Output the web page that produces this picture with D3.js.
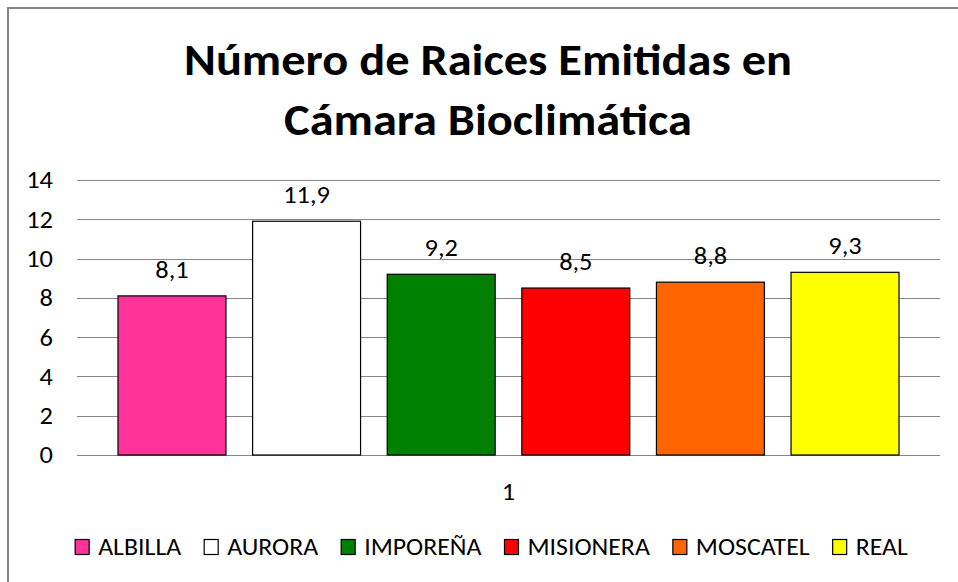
<!DOCTYPE html>
<html lang="es">
<head>
<meta charset="UTF-8">
<title>Número de Raices Emitidas en Cámara Bioclimática</title>
<script src="https://d3js.org/d3.v7.min.js"></script>
<style>
  body { margin: 0; background: #fff; }
  svg text { font-family: Carlito, Calibri, "Open Sans", sans-serif; fill: #000; }
</style>
</head>
<body>
<script>
// datos del grafico
var categories = ['ALBILLA', 'AURORA', 'IMPOREÑA', 'MISIONERA', 'MOSCATEL', 'REAL'];
var values = [8.1, 11.9, 9.2, 8.5, 8.8, 9.3];
var colors = ['#FF3399', '#FFFFFF', '#008000', '#FF0000', '#FF6600', '#FFFF00'];
var yTicks = [0, 2, 4, 6, 8, 10, 12, 14];
var xLabel = '1';
var titleLines = ['Número de Raices Emitidas en', 'Cámara Bioclimática'];

var W = 958, H = 582;
var plot = {left: 77, right: 940, top: 180, bottom: 455};
// la imagen original esta algo estirada en horizontal
var sx = 1.1;

function place(x, y) {
    return 'translate(' + x + ',' + y + ') scale(' + sx + ',1)';
}

var svg = d3.select('body').append('svg')
    .attr('width', W)
    .attr('height', H);

// marco del grafico
svg.append('rect')
    .attr('x', 8).attr('y', 8)
    .attr('width', W + 20).attr('height', H + 20)
    .attr('fill', '#fff')
    .attr('stroke', '#868686')
    .attr('stroke-width', 2);

// titulo
svg.append('g').selectAll('text')
    .data(titleLines)
    .enter()
    .append('text')
    .attr('transform', function(d, i){ return place(488, 75 + i * 60); })
    .attr('text-anchor', 'middle')
    .style('font-size', '44px')
    .style('font-weight', 'bold')
    .text(function(d){ return d; });

var y = d3.scaleLinear()
    .domain([0, 14])
    .range([plot.bottom, plot.top]);

var x = d3.scaleBand()
    .domain(categories)
    .range([plot.left + 41, plot.right - 41])
    .paddingInner(0.198)
    .paddingOuter(0);

// lineas de division
svg.append('g').selectAll('line')
    .data(yTicks)
    .enter()
    .append('line')
    .attr('x1', plot.left)
    .attr('x2', plot.right)
    .attr('y1', function(d){ return Math.round(y(d)) + 0.5; })
    .attr('y2', function(d){ return Math.round(y(d)) + 0.5; })
    .attr('stroke', '#868686')
    .attr('stroke-width', 1);

// eje y
var yAxis = svg.append('g')
    .attr('transform', 'translate(' + (plot.left - 24) + ',0)')
    .call(d3.axisLeft(y).tickValues(yTicks).tickSize(0).tickPadding(0));
yAxis.select('.domain').remove();
yAxis.selectAll('.tick text')
    .attr('x', null)
    .attr('transform', 'scale(' + sx + ',1)')
    .style('font-size', '24px')
    .attr('dy', '0.33em');

// barras
svg.append('g').selectAll('rect')
    .data(values)
    .enter()
    .append('rect')
    .attr('x', function(d, i){ return x(categories[i]); })
    .attr('y', function(d){ return y(d); })
    .attr('width', x.bandwidth())
    .attr('height', function(d){ return y(0) - y(d); })
    .attr('fill', function(d, i){ return colors[i]; })
    .attr('stroke', '#000')
    .attr('stroke-width', 1.2);

// etiquetas de datos
svg.append('g').selectAll('text')
    .data(values)
    .enter()
    .append('text')
    .attr('transform', function(d, i){
        return place(x(categories[i]) + x.bandwidth() / 2, y(d) - 18);
    })
    .attr('text-anchor', 'middle')
    .style('font-size', '24px')
    .text(function(d){ return d3.format('.1f')(d).replace('.', ','); });

// etiqueta eje x
svg.append('text')
    .attr('transform', place(x.range()[0] + (x.range()[1] - x.range()[0]) / 2, 500))
    .attr('text-anchor', 'middle')
    .style('font-size', '24px')
    .text(xLabel);

// leyenda
var legend = svg.append('g');
var items = legend.selectAll('g')
    .data(categories)
    .enter()
    .append('g');
items.append('rect')
    .attr('width', 14).attr('height', 15)
    .attr('y', 539.5)
    .attr('fill', function(d, i){ return colors[i]; })
    .attr('stroke', '#000')
    .attr('stroke-width', 1.2);
items.append('text')
    .attr('transform', place(23, 555))
    .style('font-size', '23.5px')
    .text(function(d){ return d; });

var pos = 0;
var offsets = [];
items.each(function(){
    var w = d3.select(this).select('text').node().getComputedTextLength() * sx;
    offsets.push(pos);
    pos += 23 + w + 23;
});
var total = pos - 23;
var start = 491.5 - total / 2;
items.attr('transform', function(d, i){
    return 'translate(' + (start + offsets[i]) + ',0)';
});
</script>
</body>
</html>
